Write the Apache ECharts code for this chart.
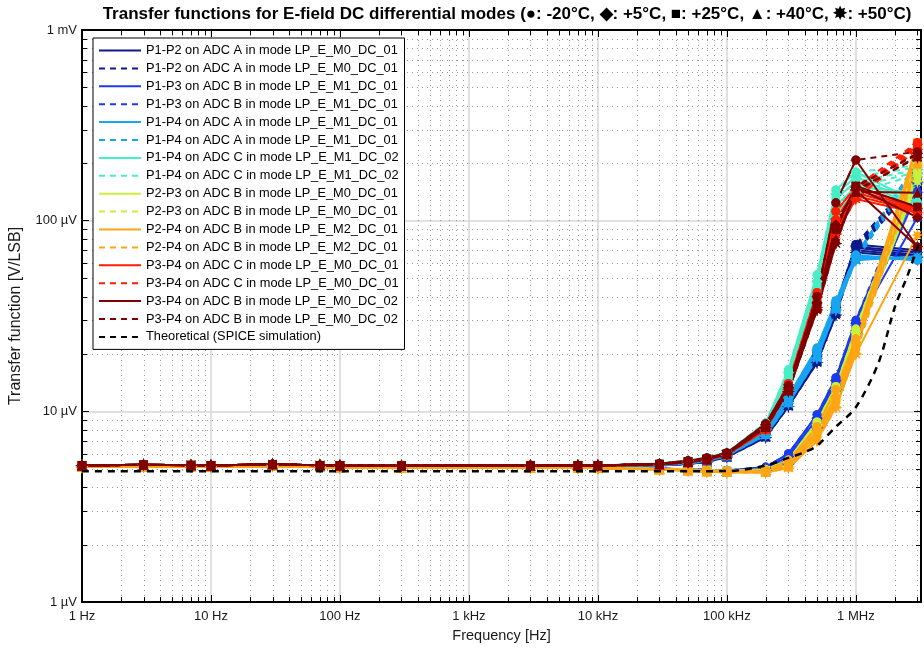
<!DOCTYPE html>
<html>
<head>
<meta charset="utf-8">
<script src="https://cdn.jsdelivr.net/npm/echarts@6/dist/echarts.min.js"></script>
<style>
html,body{margin:0;padding:0;background:#fff;}
#chart{width:924px;height:648px;}
</style>
</head>
<body>
<div id="chart"></div>
<script>
// ---------------- DATA ----------------
const titleText = 'Transfer functions for E-field DC differential modes (\u25CF: -20\u00B0C, \u25C6: +5\u00B0C, \u25A0: +25\u00B0C, \u25B2: +40\u00B0C, \u2738: +50\u00B0C)';
const xTickLabels = {1: '1 Hz', 10: '10 Hz', 100: '100 Hz', 1000: '1 kHz', 10000: '10 kHz', 100000: '100 kHz', 1000000: '1 MHz'};
const yTickLabels = {1: '1 \u00B5V', 10: '10 \u00B5V', 100: '100 \u00B5V', 1000: '1 mV'};

// measurement frequencies [Hz]
const freqHz = [1, 3, 7, 10, 30, 70, 100, 300, 3000, 7000, 10000, 30000, 50000, 70000, 100000, 200000, 300000, 500000, 700000, 1000000, 3000000];

// flat region 1 Hz .. 10 kHz [uV]
const plateauAB = [5.20, 5.24, 5.22, 5.20, 5.27, 5.21, 5.20, 5.19, 5.20, 5.20, 5.20];
const plateauC  = [5.10, 5.14, 5.12, 5.10, 5.16, 5.10, 5.09, 5.07, 5.06, 5.06, 5.05];

// legend labels
const labelP1P2A = 'P1-P2 on ADC A in mode LP_E_M0_DC_01';
const labelP1P3B = 'P1-P3 on ADC B in mode LP_E_M1_DC_01';
const labelP1P4A = 'P1-P4 on ADC A in mode LP_E_M1_DC_01';
const labelP1P4C = 'P1-P4 on ADC C in mode LP_E_M1_DC_02';
const labelP2P3B = 'P2-P3 on ADC B in mode LP_E_M0_DC_01';
const labelP2P4B = 'P2-P4 on ADC B in mode LP_E_M2_DC_01';
const labelP3P4C = 'P3-P4 on ADC C in mode LP_E_M0_DC_01';
const labelP3P4B = 'P3-P4 on ADC B in mode LP_E_M0_DC_02';
const labelTheory = 'Theoretical (SPICE simulation)';

// high-frequency part: 30k,50k,70k,100k,200k,300k,500k,700k,1M,3M  (rows: -20, +5, +25, +40, +50 degC)
const tailP1P2A = [
  [5.26, 5.36, 5.52, 5.92, 7.7, 11.6, 20.5, 36, 75, 70],
  [5.25, 5.35, 5.50, 5.88, 7.6, 11.3, 19.5, 35, 73, 68],
  [5.24, 5.33, 5.47, 5.84, 7.5, 11.0, 19.0, 34, 72, 66],
  [5.22, 5.31, 5.45, 5.80, 7.4, 10.8, 18.5, 33, 70, 65],
  [5.20, 5.30, 5.42, 5.76, 7.3, 10.6, 18.0, 32, 68, 64]];
const tailP1P3B = [
  [5.02, 4.97, 4.93, 4.90, 5.10, 6.00, 9.6, 15.0, 30, 170],
  [5.00, 4.95, 4.92, 4.88, 5.02, 5.80, 9.2, 14.5, 29, 160],
  [4.99, 4.94, 4.90, 4.86, 4.97, 5.60, 8.8, 14.0, 28, 104],
  [4.98, 4.93, 4.89, 4.85, 4.92, 5.45, 8.5, 13.5, 27, 150],
  [4.97, 4.92, 4.88, 4.84, 4.88, 5.30, 8.2, 13.0, 26, 140]];
const tailP1P4A = [
  [5.27, 5.40, 5.58, 5.98, 7.9, 12.0, 21.5, 38, 66, 62],
  [5.26, 5.38, 5.55, 5.95, 7.8, 11.8, 21.0, 37, 65, 62],
  [5.25, 5.36, 5.52, 5.92, 7.7, 11.5, 20.0, 36, 64, 63],
  [5.24, 5.34, 5.50, 5.88, 7.6, 11.2, 19.5, 35, 63, 64],
  [5.22, 5.32, 5.48, 5.85, 7.5, 11.0, 19.0, 34, 62, 65]];
const tailP1P4C = [
  [5.32, 5.52, 5.72, 6.08, 8.7, 16.5, 52, 145, 180, 125],
  [5.31, 5.50, 5.68, 6.05, 8.5, 16.0, 48, 138, 170, 122],
  [5.30, 5.47, 5.65, 6.02, 8.3, 15.5, 45, 130, 160, 120],
  [5.28, 5.45, 5.62, 5.98, 8.1, 15.0, 42, 120, 150, 140],
  [5.27, 5.43, 5.60, 5.95, 8.0, 14.5, 40, 110, 140, 115]];
const tailP2P3B = [
  [5.00, 4.95, 4.91, 4.88, 4.96, 5.55, 8.8, 13.5, 27, 200],
  [4.99, 4.94, 4.90, 4.86, 4.92, 5.45, 8.5, 13.0, 26, 190],
  [4.98, 4.93, 4.89, 4.85, 4.90, 5.35, 8.2, 12.5, 25, 180],
  [4.97, 4.92, 4.87, 4.83, 4.87, 5.25, 8.0, 12.0, 24, 170],
  [4.96, 4.91, 4.86, 4.82, 4.85, 5.15, 7.8, 11.5, 23, 160]];
const tailP2P4B = [
  [4.98, 4.93, 4.89, 4.86, 4.90, 5.50, 8.3, 13.0, 24, 250],
  [4.97, 4.92, 4.87, 4.84, 4.86, 5.35, 7.9, 12.0, 23, 230],
  [4.96, 4.91, 4.86, 4.82, 4.82, 5.25, 7.6, 11.5, 22, 257],
  [4.95, 4.90, 4.84, 4.80, 4.80, 5.15, 7.3, 11.0, 21, 200],
  [4.94, 4.88, 4.82, 4.78, 4.77, 5.05, 7.0, 10.5, 20, 84]];
const tailP3P4C = [
  [5.30, 5.47, 5.67, 6.02, 8.4, 14.0, 42, 112, 150, 118],
  [5.29, 5.45, 5.63, 6.00, 8.3, 13.8, 40, 102, 145, 116],
  [5.28, 5.43, 5.60, 5.97, 8.2, 13.5, 38, 96, 140, 114],
  [5.26, 5.41, 5.57, 5.95, 8.1, 13.2, 36, 90, 135, 112],
  [5.25, 5.40, 5.55, 5.92, 8.0, 13.0, 35, 85, 130, 110]];
const tailP3P4B = [
  [5.31, 5.50, 5.70, 6.05, 8.6, 13.6, 40, 124, 208, 73],
  [5.30, 5.47, 5.66, 6.02, 8.5, 13.3, 37, 95, 150, 104],
  [5.29, 5.45, 5.63, 6.00, 8.4, 13.1, 36, 90, 152, 118],
  [5.27, 5.43, 5.60, 5.97, 8.3, 12.9, 35, 80, 142, 140],
  [5.26, 5.41, 5.58, 5.95, 8.2, 12.7, 34, 76, 145, 73]];

// dashed variants: same sweep up to 1 MHz, value at 3 MHz [uV]
const dashed3M_P1P2A = [175, 170, 168, 165, 160];
const dashed3M_P1P3B = [185, 178, 172, 165, 158];
const dashed3M_P1P4A = [205, 200, 195, 190, 185];
const dashed3M_P1P4C = [195, 190, 185, 180, 175];
const dashed3M_P2P3B = [210, 200, 190, 180, 170];
const dashed3M_P2P4B = [240, 225, 215, 205, 195];
const dashed3M_P3P4C = [257, 252, 247, 242, 237];
const dashed3M_P3P4B = [230, 226, 222, 218, 214];

// theoretical curve
const theoFreq = [1, 10, 100, 1000, 10000, 100000, 200000, 300000, 400000, 500000, 700000, 1000000, 1500000, 2000000, 2500000, 3000000, 3200000];
const theoVal  = [4.85, 4.85, 4.85, 4.85, 4.85, 4.86, 5.2, 5.7, 6.1, 6.6, 8.3, 10.5, 18, 35, 51, 72, 80];

// ---------------- STYLE ----------------
const FONT = 'Liberation Sans, Arial, Helvetica, sans-serif';
const starPath = 'path://M20 10 L14.16 11.72 L17.07 17.07 L11.72 14.16 L10 20 L8.28 14.16 L2.93 17.07 L5.84 11.72 L0 10 L5.84 8.28 L2.93 2.93 L8.28 5.84 L10 0 L11.72 5.84 L17.07 2.93 L14.16 8.28 Z';
const tempSymbols = ['circle', 'diamond', 'rect', 'triangle', starPath];
const tempSizes = [9, 11, 8.5, 10, 13];

const entries = [
  {label: labelP1P2A, color: '#0D1A8C', dashed: false, plateau: plateauAB, tail: tailP1P2A},
  {label: labelP1P2A, color: '#0D1A8C', dashed: true,  plateau: plateauAB, tail: tailP1P2A, end: dashed3M_P1P2A},
  {label: labelP1P3B, color: '#1A3BF0', dashed: false, plateau: plateauC,  tail: tailP1P3B},
  {label: labelP1P3B, color: '#1A3BF0', dashed: true,  plateau: plateauC,  tail: tailP1P3B, end: dashed3M_P1P3B},
  {label: labelP1P4A, color: '#17A5F2', dashed: false, plateau: plateauAB, tail: tailP1P4A},
  {label: labelP1P4A, color: '#17A5F2', dashed: true,  plateau: plateauAB, tail: tailP1P4A, end: dashed3M_P1P4A},
  {label: labelP1P4C, color: '#46EFC6', dashed: false, plateau: plateauAB, tail: tailP1P4C},
  {label: labelP1P4C, color: '#46EFC6', dashed: true,  plateau: plateauAB, tail: tailP1P4C, end: dashed3M_P1P4C},
  {label: labelP2P3B, color: '#C8F03C', dashed: false, plateau: plateauC,  tail: tailP2P3B},
  {label: labelP2P3B, color: '#C8F03C', dashed: true,  plateau: plateauC,  tail: tailP2P3B, end: dashed3M_P2P3B},
  {label: labelP2P4B, color: '#FFA514', dashed: false, plateau: plateauC,  tail: tailP2P4B},
  {label: labelP2P4B, color: '#FFA514', dashed: true,  plateau: plateauC,  tail: tailP2P4B, end: dashed3M_P2P4B},
  {label: labelP3P4C, color: '#FF1E00', dashed: false, plateau: plateauAB, tail: tailP3P4C},
  {label: labelP3P4C, color: '#FF1E00', dashed: true,  plateau: plateauAB, tail: tailP3P4C, end: dashed3M_P3P4C},
  {label: labelP3P4B, color: '#800000', dashed: false, plateau: plateauAB, tail: tailP3P4B},
  {label: labelP3P4B, color: '#800000', dashed: true,  plateau: plateauAB, tail: tailP3P4B, end: dashed3M_P3P4B}
];
const DASH = [6, 5];

// legend keys (dashed entries need unique keys)
const legendKeys = entries.map((e, i) => e.label + (e.dashed ? '#d' : ''));
legendKeys.push(labelTheory);

const series = [];
// legend proxies
entries.forEach((e, i) => {
  series.push({
    type: 'line', name: legendKeys[i], data: [], symbol: 'none',
    xAxisIndex: 0, yAxisIndex: 0,
    lineStyle: {color: e.color, width: 2, type: e.dashed ? DASH : 'solid'},
    itemStyle: {color: 'rgba(0,0,0,0)', borderWidth: 0, opacity: 0}
  });
});
series.push({
  type: 'line', name: labelTheory, data: [], symbol: 'none',
  lineStyle: {color: '#000', width: 2, type: [6, 5]},
  itemStyle: {color: 'rgba(0,0,0,0)', borderWidth: 0, opacity: 0}
});

// minor grid / ticks (log 2..9 per decade)
const xMinor = [];
for (let d = 1; d <= 1e6; d *= 10) for (let m = 2; m <= 9; m++) { if (d * m < 3.2e6) xMinor.push(d * m); }
const yMinor = [];
for (let d = 1; d <= 100; d *= 10) for (let m = 2; m <= 9; m++) yMinor.push(d * m);

series.push({
  type: 'custom', silent: true, z: 1, xAxisIndex: 0, yAxisIndex: 0,
  data: xMinor.map(v => [v, 1]),
  renderItem: function (params, api) {
    const x = Math.round(api.coord([api.value(0), 1])[0]) + 0.5;
    const cs = params.coordSys;
    return {type: 'group', children: [
      {type: 'line', shape: {x1: x, y1: cs.y, x2: x, y2: cs.y + cs.height}, style: {stroke: '#9a9a9a', lineWidth: 1, lineDash: [1, 4]}},
      {type: 'line', shape: {x1: x, y1: cs.y + cs.height, x2: x, y2: cs.y + cs.height - 5}, style: {stroke: '#000', lineWidth: 1}},
      {type: 'line', shape: {x1: x, y1: cs.y, x2: x, y2: cs.y + 5}, style: {stroke: '#000', lineWidth: 1}}
    ]};
  }
});
series.push({
  type: 'custom', silent: true, z: 1, xAxisIndex: 0, yAxisIndex: 0,
  data: yMinor.map(v => [1, v]),
  renderItem: function (params, api) {
    const y = Math.round(api.coord([1, api.value(1)])[1]) + 0.5;
    const cs = params.coordSys;
    return {type: 'group', children: [
      {type: 'line', shape: {x1: cs.x, y1: y, x2: cs.x + cs.width, y2: y}, style: {stroke: '#9a9a9a', lineWidth: 1, lineDash: [1, 4]}},
      {type: 'line', shape: {x1: cs.x, y1: y, x2: cs.x + 5, y2: y}, style: {stroke: '#000', lineWidth: 1}},
      {type: 'line', shape: {x1: cs.x + cs.width, y1: y, x2: cs.x + cs.width - 5, y2: y}, style: {stroke: '#000', lineWidth: 1}}
    ]};
  }
});

// data series
entries.forEach((e, i) => {
  for (let t = 0; t < 5; t++) {
    const vals = e.plateau.concat(e.tail[t]);
    if (e.end) vals[vals.length - 1] = e.end[t];
    series.push({
      type: 'line', name: 's' + i + '_' + t, z: 3,
      xAxisIndex: 0, yAxisIndex: 0,
      data: freqHz.map((f, k) => [f, vals[k]]),
      symbol: tempSymbols[t], symbolSize: tempSizes[t], showSymbol: true,
      lineStyle: {color: e.color, width: 2, type: e.dashed ? DASH : 'solid'},
      itemStyle: {color: e.color},
      emphasis: {disabled: true}
    });
  }
});
series.push({
  type: 'line', name: labelTheory + ' ', z: 4,
  data: theoFreq.map((f, k) => [f, theoVal[k]]),
  symbol: 'none', smooth: 0.3,
  lineStyle: {color: '#000', width: 2.5, type: [7, 6]},
  emphasis: {disabled: true}
});

const axisCommonX = {
  type: 'log', logBase: 10, min: 1, max: 3.2e6, interval: 1
};
const axisCommonY = {
  type: 'log', logBase: 10, min: 1, max: 1000, interval: 1
};

const option = {
  animation: false,
  backgroundColor: '#fff',
  textStyle: {fontFamily: FONT},
  grid: {left: 82, right: 3, top: 30, bottom: 45, containLabel: false},
  graphic: [{
    type: 'text', x: 507, y: 14,
    style: {text: titleText, textAlign: 'center', textVerticalAlign: 'middle', font: 'bold 17px ' + FONT, fill: '#000'}
  }],
  legend: {
    orient: 'vertical', left: 93, top: 38,
    data: legendKeys,
    formatter: name => name.replace('#d', ''),
    itemWidth: 42, itemHeight: 12, itemGap: 4.9,
    padding: [6, 6, 6, 5],
    backgroundColor: '#fff', borderColor: '#000', borderWidth: 1, borderRadius: 0,
    itemStyle: {opacity: 0},
    textStyle: {fontSize: 12.8, fontFamily: FONT, color: '#000'},
    selectedMode: false
  },
  xAxis: [
    Object.assign({}, axisCommonX, {
      position: 'bottom',
      name: 'Frequency [Hz]', nameLocation: 'middle', nameGap: 26,
      nameTextStyle: {fontSize: 14.5, color: '#1a1a1a', fontFamily: FONT},
      axisLine: {show: true, lineStyle: {color: '#000', width: 2}},
      axisTick: {show: true, inside: true, length: 7, lineStyle: {color: '#000', width: 1}},
      axisLabel: {margin: 8, fontSize: 13, color: '#1a1a1a', fontFamily: FONT,
        formatter: v => xTickLabels[Math.round(v)] || ''},
      splitLine: {show: true, lineStyle: {color: '#d6d6d6', width: 1.5}},
      minorTick: {show: false}, minorSplitLine: {show: false}
    }),
    Object.assign({}, axisCommonX, {
      position: 'top',
      axisLine: {show: true, lineStyle: {color: '#000', width: 2}},
      axisTick: {show: true, inside: true, length: 7, lineStyle: {color: '#000', width: 1}},
      axisLabel: {show: false}, splitLine: {show: false}
    })
  ],
  yAxis: [
    Object.assign({}, axisCommonY, {
      position: 'left',
      name: 'Transfer function [V/LSB]', nameLocation: 'middle', nameGap: 58, nameRotate: 90,
      nameTextStyle: {fontSize: 16, color: '#1a1a1a', fontFamily: FONT},
      axisLine: {show: true, lineStyle: {color: '#000', width: 2}},
      axisTick: {show: true, inside: true, length: 7, lineStyle: {color: '#000', width: 1}},
      axisLabel: {margin: 5, fontSize: 13, color: '#1a1a1a', fontFamily: FONT,
        formatter: v => yTickLabels[Math.round(v)] || ''},
      splitLine: {show: true, lineStyle: {color: '#d6d6d6', width: 1.5}}
    }),
    Object.assign({}, axisCommonY, {
      position: 'right',
      axisLine: {show: true, lineStyle: {color: '#000', width: 2}},
      axisTick: {show: true, inside: true, length: 7, lineStyle: {color: '#000', width: 1}},
      axisLabel: {show: false}, splitLine: {show: false}
    })
  ],
  series: series
};

const chart = echarts.init(document.getElementById('chart'), null, {renderer: 'canvas'});
chart.setOption(option);
</script>
</body>
</html>
